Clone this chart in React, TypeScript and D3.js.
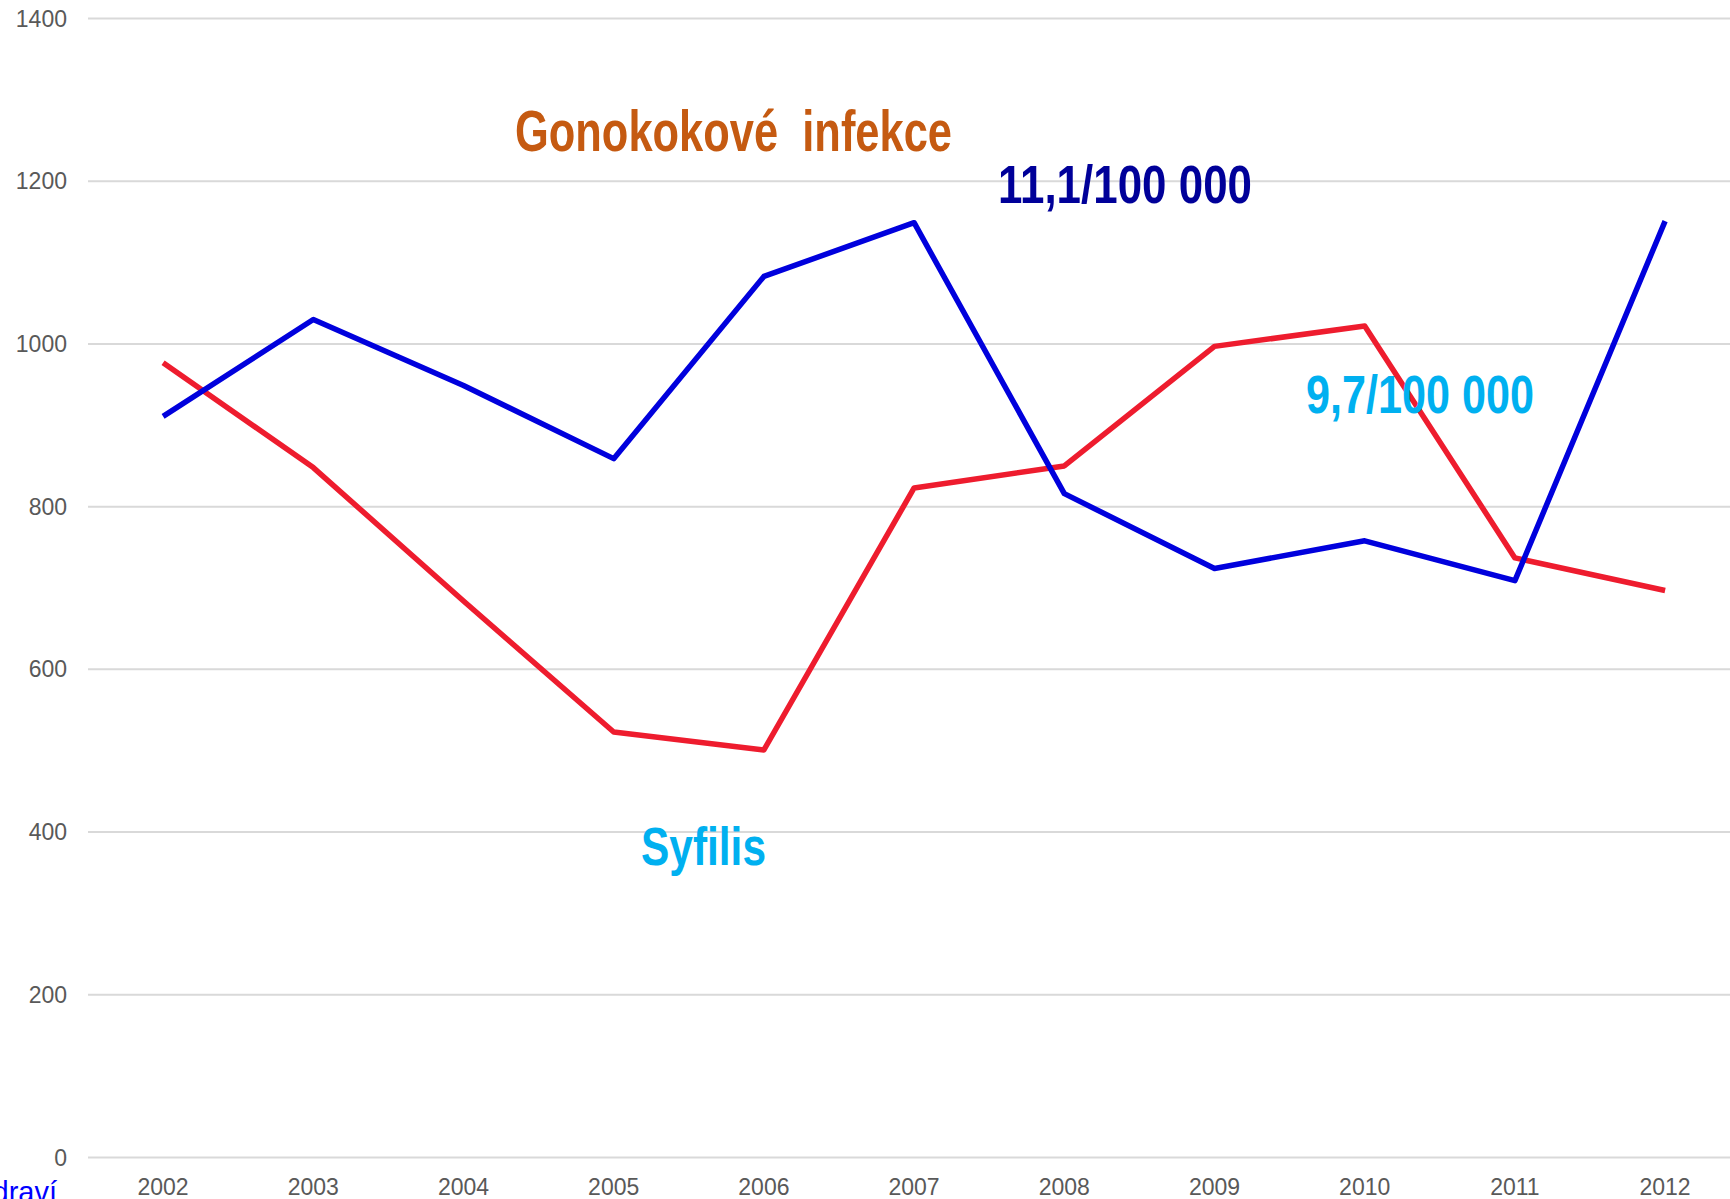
import React from "react";
import * as d3 from "d3";

const years = ["2002","2003","2004","2005","2006","2007","2008","2009","2010","2011","2012"];
const blueSeries = [911, 1030, 949, 859, 1083, 1149, 816, 724, 758, 709, 1151];
const redSeries = [977, 848, 684, 523, 501, 823, 850, 997, 1022, 737, 697];
const yTicks = [0, 200, 400, 600, 800, 1000, 1200, 1400];

const W = 1730;
const H = 1199;

export default function App() {
  const x = d3.scaleBand<string>().domain(years).range([88, 88 + 11 * 150.2]).padding(0);
  const y = d3.scaleLinear().domain([0, 1400]).range([1157.5, 18.5]);
  const cx = (d: string) => (x(d) as number) + x.bandwidth() / 2;
  const line = d3.line<number>().x((_, i) => cx(years[i])).y((v) => y(v));
  const narrow = "'Liberation Sans Narrow', 'Arial Narrow', 'Liberation Sans', Arial, sans-serif";
  const axisFont = "'Liberation Sans', Arial, sans-serif";

  return (
    <svg width={W} height={H} style={{ position: "absolute", left: 0, top: 0, background: "#fff" }}>
      {yTicks.map((t) => (
        <g key={t}>
          <line x1={88} x2={W} y1={y(t)} y2={y(t)} stroke="#d9d9d9" strokeWidth={2} />
          <text x={67} y={y(t)} dy="0.35em" textAnchor="end" fontFamily={axisFont} fontSize={23} fill="#595959">{t}</text>
        </g>
      ))}
      {years.map((yr) => (
        <text key={yr} x={cx(yr)} y={1195} textAnchor="middle" fontFamily={axisFont} fontSize={23} fill="#595959">{yr}</text>
      ))}
      <path d={line(redSeries) as string} fill="none" stroke="#ee1c2e" strokeWidth={5.5} strokeLinejoin="round" />
      <path d={line(blueSeries) as string} fill="none" stroke="#0000dd" strokeWidth={5.5} strokeLinejoin="round" />
      <text x={515} y={151} fontFamily={narrow} fontWeight="bold" fontSize={57} fill="#c55a11" textLength={437} lengthAdjust="spacingAndGlyphs" style={{ whiteSpace: "pre" }}>{"Gonokokové  infekce"}</text>
      <text x={998} y={203} fontFamily={narrow} fontWeight="bold" fontSize={53} fill="#000099" textLength={254} lengthAdjust="spacingAndGlyphs">11,1/100 000</text>
      <text x={1306} y={413} fontFamily={narrow} fontWeight="bold" fontSize={53} fill="#00b0f0" textLength={228} lengthAdjust="spacingAndGlyphs">9,7/100 000</text>
      <text x={641} y={865} fontFamily={narrow} fontWeight="bold" fontSize={53} fill="#00b0f0" textLength={125} lengthAdjust="spacingAndGlyphs">Syfilis</text>
      <text x={57} y={1202} textAnchor="end" fontFamily={axisFont} fontSize={29} fill="#0000ff">zdraví</text>
    </svg>
  );
}
